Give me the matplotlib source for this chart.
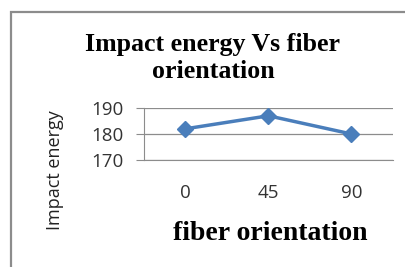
import matplotlib.pyplot as plt
from matplotlib.patches import Rectangle

categories = ['0', '45', '90']
impact_energy = [182, 187, 180]
y_ticks = [170, 180, 190]

W, H = 406, 267
fig = plt.figure(figsize=(W / 100, H / 100), dpi=100)
fig.patch.set_facecolor('white')

# outer chart border (only left and top edges visible in the crop)
fig.patches.append(Rectangle((11 / W, -0.1), 1.2, 1 - 12 / H + 0.1,
                             transform=fig.transFigure, fill=False,
                             edgecolor='#8c8c8c', linewidth=1.6))

ax = fig.add_axes([144 / W, 1 - 160 / H, (393 - 144) / W, 52 / H])
x = range(len(categories))
ax.plot(x, impact_energy, color='#4a7ebb', linewidth=2.5, marker='D',
        markersize=8.5, markerfacecolor='#4a7ebb', markeredgecolor='#4a7ebb')
ax.set_xlim(-0.5, len(categories) - 0.5)
ax.set_ylim(170, 190)
ax.set_yticks(y_ticks)
ax.set_xticks(list(x))
ax.set_xticklabels(categories)
ax.yaxis.grid(True, color='#8c8c8c', linewidth=0.9)
ax.set_axisbelow(True)
for s in ['top', 'right']:
    ax.spines[s].set_visible(False)
ax.spines['left'].set_color('#8c8c8c')
ax.spines['bottom'].set_color('#8c8c8c')
ax.tick_params(axis='y', length=5.8, color='#8c8c8c', pad=9, labelsize=13.5,
               labelcolor='#333333')
ax.tick_params(axis='x', length=0, pad=17, labelsize=13.5, labelcolor='#333333')
for lab in ax.get_xticklabels() + ax.get_yticklabels():
    lab.set_family('Open Sans')

serif = 'Liberation Serif'
fig.text(213 / W, 1 - 45 / H, 'Impact energy Vs fiber', ha='center', va='center',
         fontsize=18.6, fontweight='bold', family=serif)
fig.text(213 / W, 1 - 71 / H, 'orientation', ha='center', va='center',
         fontsize=18.6, fontweight='bold', family=serif)
fig.text(270 / W, 1 - 234 / H, 'fiber orientation', ha='center', va='center',
         fontsize=20, fontweight='bold', family=serif)
fig.text(55 / W, 1 - 170 / H, 'Impact energy', ha='center', va='center',
         rotation=90, fontsize=13, family='Open Sans', color='#222222')

fig.savefig('out.png', dpi=100)
